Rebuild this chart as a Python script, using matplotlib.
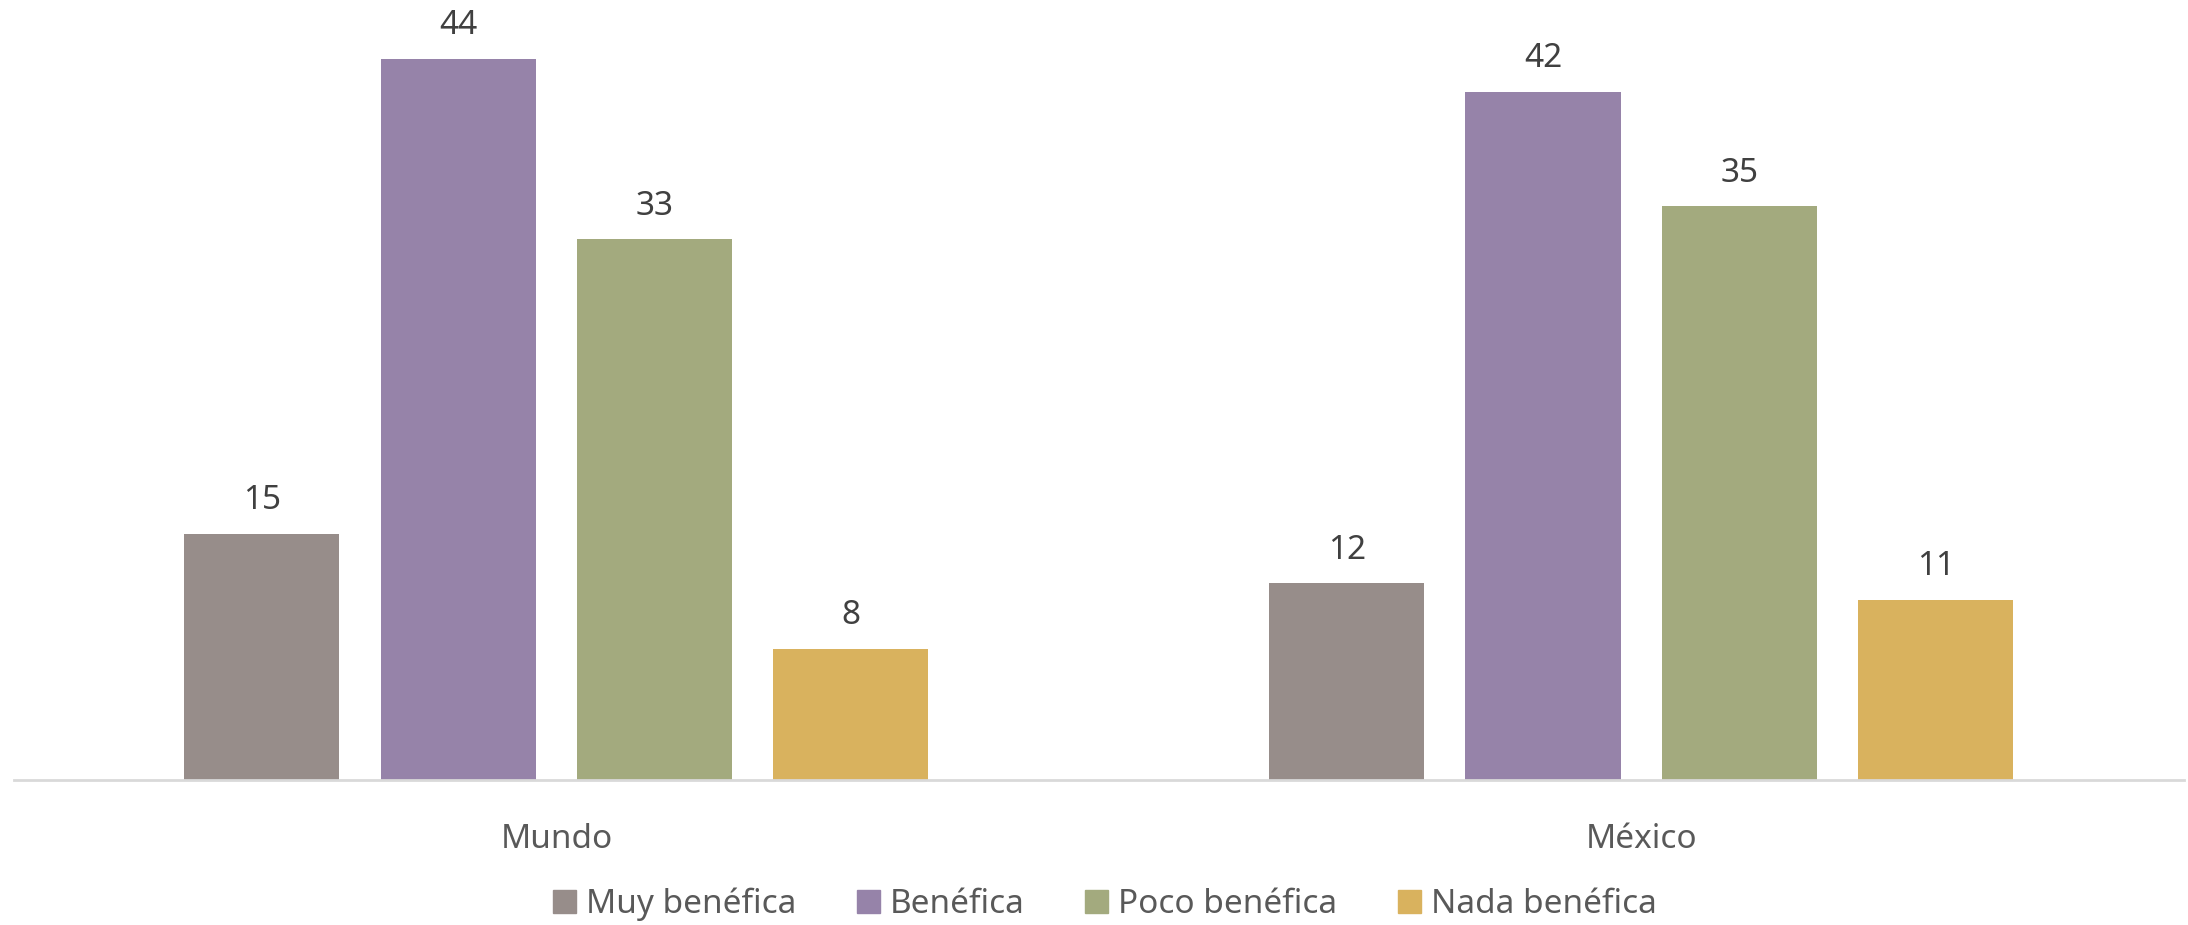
import numpy as np
import matplotlib
matplotlib.use('agg')
import matplotlib.pyplot as plt
from matplotlib.patches import Patch

plt.rcParams['font.family'] = ['Noto Sans', 'DejaVu Sans']

groups = ['Mundo', 'México']
series = ['Muy benéfica', 'Benéfica', 'Poco benéfica', 'Nada benéfica']
values = {
    'Muy benéfica': [15, 12],
    'Benéfica': [44, 42],
    'Poco benéfica': [33, 35],
    'Nada benéfica': [8, 11],
}
colors = ['#978D8A', '#9683A9', '#A3AA7E', '#D9B25E']

fig = plt.figure(figsize=(21.88, 9.25), dpi=100)
ax = fig.add_axes([0.0064, 0.157, 0.9916, 0.843])

x = np.arange(len(groups))
step = 0.181
width = 0.143
for i, name in enumerate(series):
    pos = x + (i - 1.5) * step
    bars = ax.bar(pos, values[name], width, color=colors[i], label=name)
    for b, v in zip(bars, values[name]):
        ax.annotate(str(v), (b.get_x() + b.get_width() / 2, v),
                    xytext=(0, 12), textcoords='offset points',
                    ha='center', va='bottom', fontsize=24, color='#404040')

ax.set_xlim(-0.5, 1.5)
ax.set_ylim(0, 47.6)
ax.set_xticks(x)
ax.set_xticklabels(groups, fontsize=24, color='#595959')
ax.tick_params(axis='x', length=0, pad=31)
ax.set_yticks([])
for s in ['top', 'right', 'left']:
    ax.spines[s].set_visible(False)
ax.spines['bottom'].set_color('#d9d9d9')
ax.spines['bottom'].set_linewidth(2)

handles = [Patch(color=c, label=n) for c, n in zip(colors, series)]
fig.legend(handles=handles, loc='lower center', bbox_to_anchor=(0.505, -0.028),
           ncol=4, frameon=False, fontsize=24, labelcolor='#595959',
           handlelength=0.7, handleheight=0.7, handletextpad=0.3, columnspacing=1.8)

fig.savefig('out.png', dpi=100)
